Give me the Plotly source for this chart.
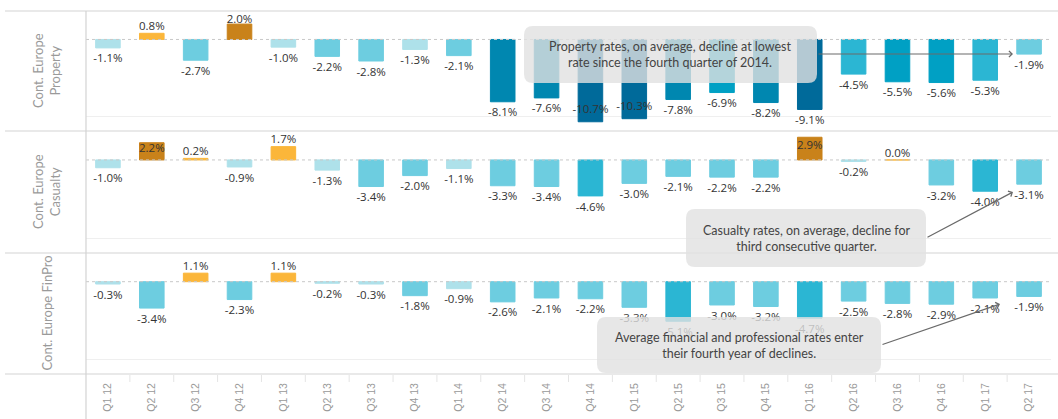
import plotly.graph_objects as go

quarters = ["Q1 12", "Q2 12", "Q3 12", "Q4 12", "Q1 13", "Q2 13", "Q3 13", "Q4 13",
            "Q1 14", "Q2 14", "Q3 14", "Q4 14", "Q1 15", "Q2 15", "Q3 15", "Q4 15",
            "Q1 16", "Q2 16", "Q3 16", "Q4 16", "Q1 17", "Q2 17"]

property_rates = [-1.1, 0.8, -2.7, 2.0, -1.0, -2.2, -2.8, -1.3, -2.1, -8.1, -7.6, -10.7,
                  -10.3, -7.8, -6.9, -8.2, -9.1, -4.5, -5.5, -5.6, -5.3, -1.9]
casualty_rates = [-1.0, 2.2, 0.2, -0.9, 1.7, -1.3, -3.4, -2.0, -1.1, -3.3, -3.4, -4.6,
                  -3.0, -2.1, -2.2, -2.2, 2.9, -0.2, 0.0, -3.2, -4.0, -3.1]
finpro_rates = [-0.3, -3.4, 1.1, -2.3, 1.1, -0.2, -0.3, -1.8, -0.9, -2.6, -2.1, -2.2,
                -3.3, -5.1, -3.0, -3.2, -4.7, -2.5, -2.8, -2.9, -2.1, -1.9]

row_labels = ["Cont. Europe<br>Property", "Cont. Europe<br>Casualty", "Cont. Europe FinPro"]
callouts = [
    "Property rates, on average, decline at lowest<br>rate since the fourth quarter of 2014.",
    "Casualty rates, on average, decline for<br>third consecutive quarter.",
    "Average financial and professional rates enter<br>their fourth year of declines.",
]

# ---------------- layout geometry ----------------
W, H = 1058, 419
ML, MR, MT, MB = 86, 7, 11, 45
PW, PH = W - ML - MR, H - MT - MB
YMIN, YMAX = -11.9, 3.7


def xp(px):
    return (px - ML) / PW


def yp(py):
    return (H - MB - py) / PH


panel_px = [(11, 131), (131, 253), (253, 374)]
domains = [[yp(b), yp(t)] for t, b in panel_px]
domains[0][1] = 1.0
domains[2][0] = 0.0
ppu = (panel_px[1][1] - panel_px[1][0]) / (YMAX - YMIN)  # px per % unit


def bar_color(v):
    if v >= 1.95:
        return "#C9821A"
    if v >= 0:
        return "#FBB63A"
    if v > -1.5:
        return "#AEE1EA"
    if v > -3.9:
        return "#6DCDE0"
    if v > -5.4:
        return "#2BB6D3"
    if v > -7.0:
        return "#00A0C4"
    if v > -8.5:
        return "#0087B0"
    return "#006A9A"


fig = go.Figure()
series = [property_rates, casualty_rates, finpro_rates]
yaxes = ["y", "y2", "y3"]

for vals, ya in zip(series, yaxes):
    cols = [bar_color(v) for v in vals]
    fig.add_trace(go.Bar(
        x=quarters, y=vals, xaxis="x", yaxis=ya, width=0.56,
        marker=dict(color=cols, line=dict(color=cols, width=1)),
        hoverinfo="skip", showlegend=False,
    ))
    # data labels (kept inside each pane, like the original)
    ly, lp = [], []
    for v in vals:
        if v < 0:
            if (v - YMIN) * ppu < 17.5:
                ly.append(v + 12 / ppu)
                lp.append("middle center")
            else:
                ly.append(v - 6 / ppu)
                lp.append("bottom center")
        elif v + 16 / ppu <= YMAX:
            ly.append(v)
            lp.append("top center")
        elif v > 2.1:
            ly.append(v * 0.6)
            lp.append("middle center")
        else:
            ly.append(YMAX - 9 / ppu)
            lp.append("middle center")
    fig.add_trace(go.Scatter(
        x=quarters, y=ly, xaxis="x", yaxis=ya, mode="text",
        text=[f"{v:.1f}%" for v in vals], textposition=lp,
        textfont=dict(family="Open Sans", size=11.5, color="#333333"),
        cliponaxis=False, hoverinfo="skip", showlegend=False,
    ))

shapes = []
line_col = "#d3d3d3"
# dashed zero lines
for ya in yaxes:
    shapes.append(dict(type="line", xref="paper", yref=ya, x0=0, x1=1, y0=0, y1=0,
                       line=dict(color="#c8c8c8", width=1, dash="dot"), layer="above"))
# panel dividers
for yv in [1.0, domains[0][0], domains[1][0], 0.0]:
    shapes.append(dict(type="line", xref="paper", yref="paper", x0=xp(5), x1=xp(W), y0=yv, y1=yv,
                       line=dict(color=line_col, width=1.2)))
# left vertical divider
shapes.append(dict(type="line", xref="paper", yref="paper", x0=0, x1=0, y0=yp(H), y1=1,
                   line=dict(color=line_col, width=1.2)))
# small separators in the axis area
for i in range(1, len(quarters)):
    shapes.append(dict(type="line", xref="x", yref="paper", x0=i - 0.5, x1=i - 0.5,
                       y0=yp(375), y1=yp(382), line=dict(color="#e4e4e4", width=1)))


def rounded_rect(x0, y0, x1, y1, r=9):
    X0, X1 = xp(x0), xp(x1)
    Y0, Y1 = yp(y0), yp(y1)  # Y0 top (larger), Y1 bottom
    rx, ry = r / PW, r / PH
    return (f"M {X0+rx},{Y0} L {X1-rx},{Y0} Q {X1},{Y0} {X1},{Y0-ry} "
            f"L {X1},{Y1+ry} Q {X1},{Y1} {X1-rx},{Y1} "
            f"L {X0+rx},{Y1} Q {X0},{Y1} {X0},{Y1+ry} "
            f"L {X0},{Y0-ry} Q {X0},{Y0} {X0+rx},{Y0} Z")


boxes = [(524, 26, 817, 83), (686, 209, 926, 267), (597, 317, 881, 373)]
for b in boxes:
    shapes.append(dict(type="path", xref="paper", yref="paper", path=rounded_rect(*b),
                       fillcolor="rgba(225,225,225,0.8)", line=dict(width=0), layer="above"))

annotations = []
# row labels
for lab, (t, b) in zip(row_labels, panel_px):
    annotations.append(dict(xref="paper", yref="paper", x=xp(46), y=yp((t + b) / 2),
                            text=lab, textangle=-90, showarrow=False,
                            font=dict(family="Lato", size=13, color="#9a9a9a"),
                            xanchor="center", yanchor="middle"))
# callout texts
for txt, (x0, y0, x1, y1) in zip(callouts, boxes):
    annotations.append(dict(xref="paper", yref="paper", x=xp((x0 + x1) / 2), y=yp((y0 + y1) / 2),
                            text=txt, showarrow=False, align="center",
                            font=dict(family="Lato", size=12.5, color="#444444"),
                            xanchor="center", yanchor="middle"))
# arrows (head, tail) in pixels
arrows = [((1013, 54), (817, 54)), ((1013, 192), (926, 238)), ((1000, 304), (881, 345))]
for (hx, hy), (tx, ty) in arrows:
    annotations.append(dict(xref="paper", yref="paper", x=xp(hx), y=yp(hy), ax=tx - hx, ay=ty - hy,
                            text="", showarrow=True, arrowhead=4, arrowsize=1, arrowwidth=1.2,
                            arrowcolor="#6a6a6a", standoff=0))

yax_common = dict(range=[YMIN, YMAX], tickvals=[-10], showticklabels=False, showgrid=True,
                  gridcolor="#efefef", gridwidth=1, zeroline=False, showline=False, ticks="",
                  fixedrange=True)

fig.update_layout(
    width=W, height=H, margin=dict(l=ML, r=MR, t=MT, b=MB),
    paper_bgcolor="white", plot_bgcolor="white", bargap=0.44,
    xaxis=dict(anchor="y3", type="category", categoryorder="array", categoryarray=quarters,
               range=[-0.5, len(quarters) - 0.5], tickangle=-90, ticks="", showgrid=False,
               showline=False, zeroline=False, ticklabelstandoff=6, fixedrange=True,
               tickfont=dict(family="Liberation Sans", size=10.5, color="#999999")),
    yaxis=dict(domain=domains[0], **yax_common),
    yaxis2=dict(domain=domains[1], **yax_common),
    yaxis3=dict(domain=domains[2], **yax_common),
    shapes=shapes, annotations=annotations, showlegend=False,
)

fig.write_html("out.html", config={"displayModeBar": False},
               post_script="document.body.style.margin='0px';document.body.style.overflow='hidden';")
